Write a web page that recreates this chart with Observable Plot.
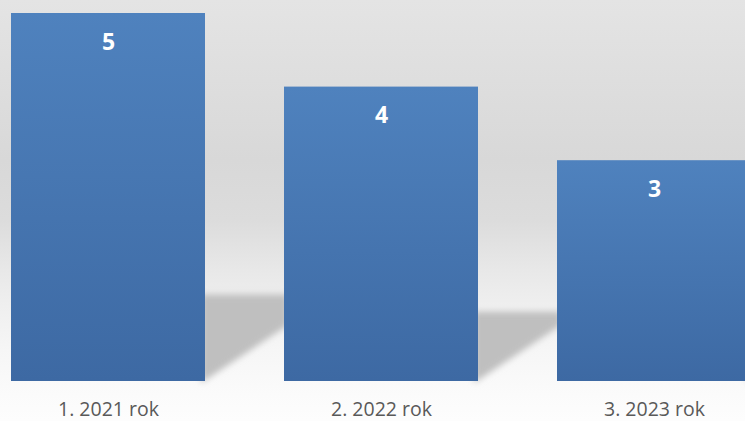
<!DOCTYPE html>
<html>
<head>
<meta charset="utf-8">
<script src="https://cdn.jsdelivr.net/npm/d3@7"></script>
<script src="https://cdn.jsdelivr.net/npm/@observablehq/plot@0.6"></script>
<style>
  html, body { margin: 0; padding: 0; overflow: hidden; width: 745px; height: 421px; }
  body {
    background: linear-gradient(to bottom, #e4e4e4 0px, #d8d8d8 160px, #dcdcdc 220px, #e8e8e8 270px, #eeeeee 300px, #f6f6f6 350px, #fbfbfb 395px, #fdfdfd 421px);
  }
  #chart svg { display: block; }
</style>
</head>
<body>
<div id="chart"></div>
<script>
const categories = ["1. 2021 rok", "2. 2022 rok", "3. 2023 rok"];
const values = [5, 4, 3];
const shadowFactor = 0.235;

const data = categories.map((c, i) => ({category: c, value: values[i]}));

const chart = Plot.plot({
  width: 745,
  height: 421,
  marginTop: 13,
  marginBottom: 40,
  marginLeft: 10,
  marginRight: -6,
  style: {background: "transparent", fontFamily: "'Open Sans', Lato, sans-serif", fontSize: "19.5px", color: "#595959", overflow: "visible"},
  x: {domain: categories, paddingInner: 0.29, paddingOuter: 0, tickSize: 0, tickPadding: 21, label: null},
  y: {domain: [0, 5], axis: null},
  marks: [
    Plot.barY(data, {x: "category", y: "value", fill: "url(#barGrad)"}),
    Plot.text(data, {x: "category", y: "value", text: d => String(d.value), dy: 29, fill: "white", fontWeight: "bold", fontSize: 23})
  ]
});
document.getElementById("chart").appendChild(chart);

const svg = d3.select(chart);
const defs = svg.insert("defs", ":first-child");
const bg = defs.append("linearGradient").attr("id", "barGrad").attr("x1", 0).attr("y1", 0).attr("x2", 0).attr("y2", 1);
bg.append("stop").attr("offset", "0%").attr("stop-color", "#4f82be");
bg.append("stop").attr("offset", "100%").attr("stop-color", "#3d69a3");
const f = defs.append("filter").attr("id", "shBlur").attr("x", "-20%").attr("y", "-20%").attr("width", "140%").attr("height", "140%");
f.append("feGaussianBlur").attr("stdDeviation", 3.2);

// perspective shadows behind the bars, positioned through Plot's scales
const xs = chart.scale("x"), ys = chart.scale("y");
const y0 = ys.apply(0);
const gap = xs.step - xs.bandwidth;
const barsG = svg.select("g[aria-label=bar]");
const shG = svg.insert("g", () => barsG.node()).attr("filter", "url(#shBlur)");
data.forEach(d => {
  const xr = xs.apply(d.category) + xs.bandwidth;
  const xn = xr + gap;
  const top = ys.apply(d.value * shadowFactor);
  const pts = [[xr - 4, top], [xn + 4, top], [xn + 4, y0 - 56], [xr - 4, y0 + 2]];
  shG.append("path").attr("d", "M" + pts.map(p => p.join(",")).join("L") + "Z").attr("fill", "#bfbfbf");
});
</script>
</body>
</html>
